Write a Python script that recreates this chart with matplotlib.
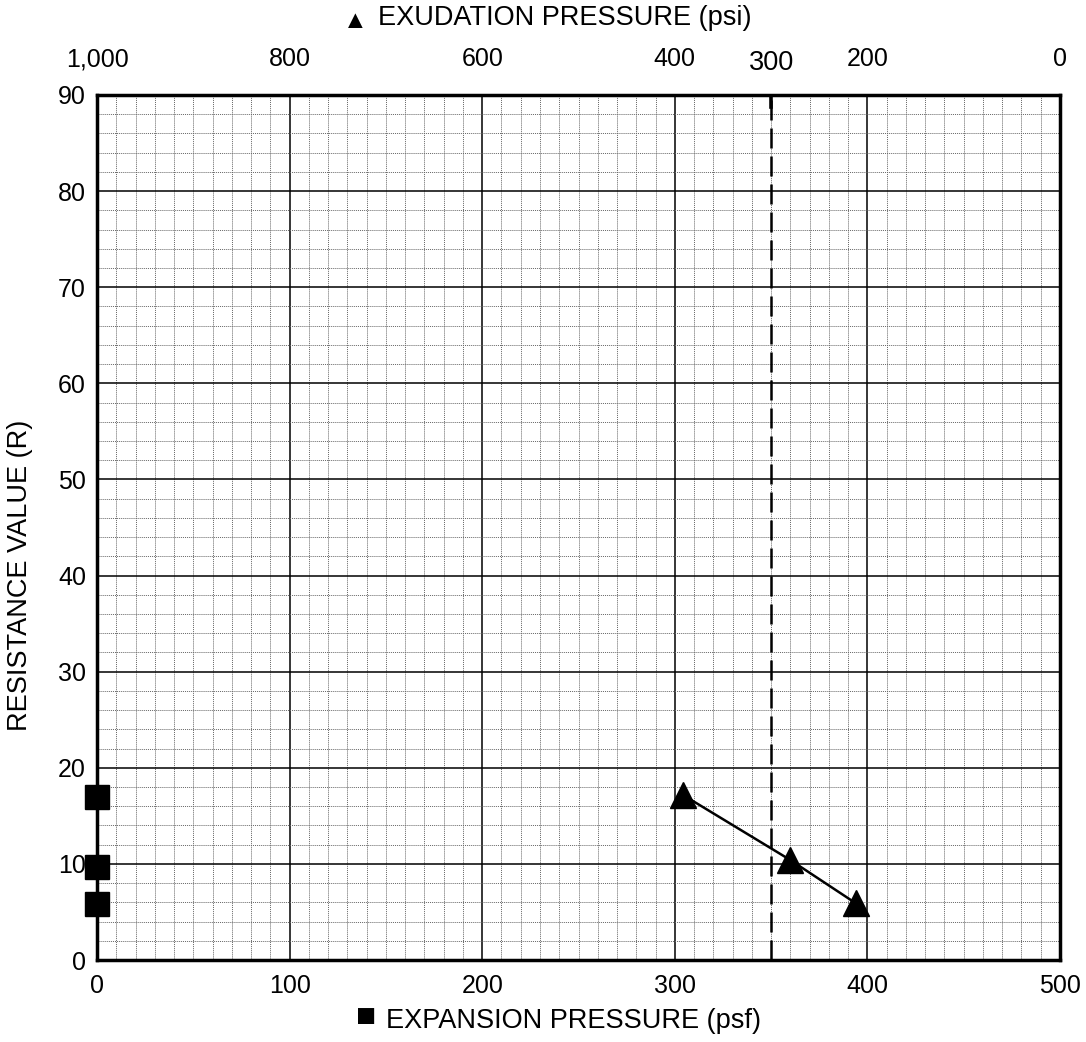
"""R-value chart: resistance value vs expansion / exudation pressure."""

import matplotlib.pyplot as plt
from matplotlib.ticker import MultipleLocator

# exudation pressure points (triangles, top axis, psi)
exudation_psi = [392, 280, 212]
exudation_r = [17.2, 10.4, 5.9]

# expansion pressure points (squares, bottom axis, psf)
expansion_psf = [0, 0, 0]
expansion_r = [17.0, 9.7, 5.8]

cutoff_psi = 300
top_ticks = [1000, 800, 600, 400, 200, 0]
top_labels = ["1,000", "800", "600", "400", "200", "0"]

plt.rcParams["font.family"] = ["Liberation Sans", "DejaVu Sans"]
FS = 18
TITLE_FS = 19.5

fig = plt.figure(figsize=(10.86, 10.42), dpi=100)
ax = fig.add_axes([97 / 1086, 1 - 960 / 1042, 963 / 1086, 865 / 1042])

ax.set_xlim(0, 500)
ax.set_ylim(0, 90)
ax.xaxis.set_major_locator(MultipleLocator(100))
ax.xaxis.set_minor_locator(MultipleLocator(10))
ax.yaxis.set_major_locator(MultipleLocator(10))
ax.yaxis.set_minor_locator(MultipleLocator(2))
ax.grid(which="major", color="black", linewidth=1.1)
ax.grid(which="minor", color="#666666", linewidth=0.7, linestyle=(0, (1, 1)))
ax.set_axisbelow(True)
ax.tick_params(which="both", length=0, labelsize=FS)
ax.tick_params(axis="x", pad=10)
ax.tick_params(axis="y", pad=8)
for sp in ax.spines.values():
    sp.set_linewidth(2.5)

ax.set_ylabel("RESISTANCE VALUE (R)", fontsize=TITLE_FS)
ax.yaxis.set_label_coords(-64 / 963, (960 - 575) / 865)

# top axis: exudation pressure, reversed
top = ax.twiny()
top.set_xlim(1000, 0)
top.set_xticks(top_ticks)
top.set_xticklabels(top_labels)
top.tick_params(length=0, labelsize=FS, pad=17)
for sp in top.spines.values():
    sp.set_visible(False)
top.text(cutoff_psi, 1 + 32 / 865, "300", transform=top.get_xaxis_transform(),
         ha="center", va="center", fontsize=19.5)

top.plot([cutoff_psi, cutoff_psi], [0, 90], color="black", linewidth=1.8,
         linestyle=(0, (8, 3.2)))
top.plot([cutoff_psi, cutoff_psi], [88.8, 90], color="black", linewidth=2.6)
top.plot(exudation_psi, exudation_r, color="black", linewidth=1.8,
         marker="^", markersize=19, clip_on=False, zorder=5)
ax.plot(expansion_psf, expansion_r, linestyle="none", color="black",
        marker="s", markersize=17, clip_on=False, zorder=5)

fig.text(378 / 1086, 1 - 18 / 1042, "EXUDATION PRESSURE (psi)", fontsize=TITLE_FS,
         ha="left", va="center")
fig.text(355 / 1086, 1 - 21 / 1042, "\u25B2", fontsize=18, ha="center", va="center")
fig.text(386 / 1086, 1 - 1021 / 1042, "EXPANSION PRESSURE (psf)", fontsize=TITLE_FS,
         ha="left", va="center")
fig.text(366 / 1086, 1 - 1018 / 1042, "\u25A0", fontsize=24, ha="center", va="center")

fig.savefig("out.png", dpi=100)
